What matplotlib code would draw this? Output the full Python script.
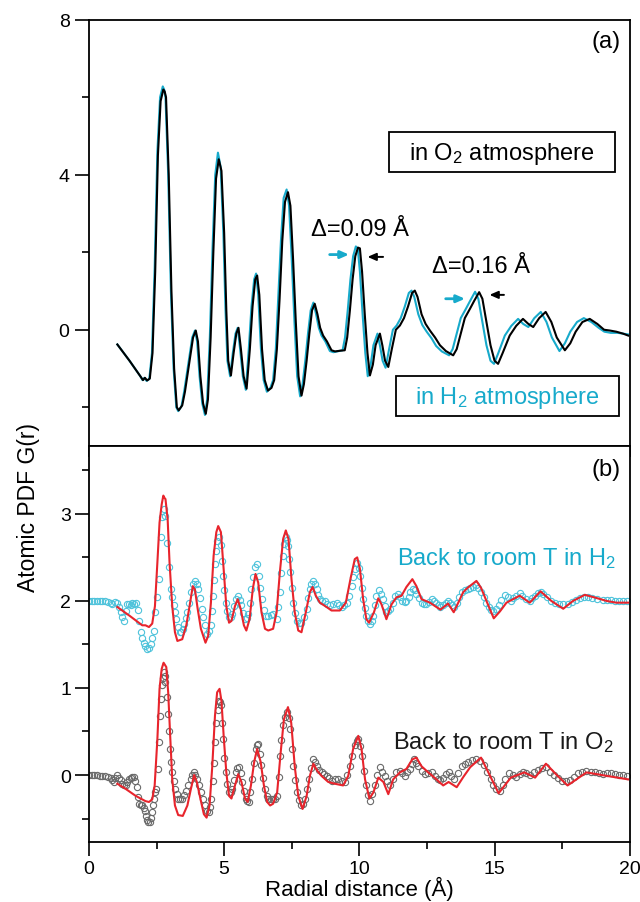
import matplotlib
matplotlib.use("Agg")
import matplotlib.pyplot as plt
import numpy as np
from matplotlib.ticker import MultipleLocator
from matplotlib.patches import Rectangle

plt.rcParams['font.family'] = ['Liberation Sans', 'DejaVu Sans']
plt.rcParams['mathtext.fontset'] = 'custom'
plt.rcParams['mathtext.rm'] = 'Liberation Sans'
plt.rcParams['mathtext.default'] = 'regular'

# (a) G(r) in O2 and in H2 atmosphere, pairs of (r, G)
o2_top = [(1.05, -0.38), (1.5, -0.80), (1.9, -1.20), (2.0, -1.30), (2.07, -1.24), (2.15, -1.31), (2.25, -1.26),
          (2.35, -0.6), (2.45, 1.5), (2.55, 4.5), (2.65, 5.9), (2.75, 6.2), (2.80, 6.15), (2.85, 6.0), (2.95, 4.0),
          (3.05, 1.0), (3.15, -1.0), (3.25, -2.0), (3.32, -2.08), (3.45, -1.95), (3.55, -1.6), (3.7, -0.9),
          (3.85, -0.2), (3.95, -0.02), (4.03, -0.3), (4.12, -1.2), (4.22, -1.9), (4.32, -2.17), (4.40, -1.8),
          (4.50, -0.2), (4.6, 2.0), (4.7, 3.9), (4.8, 4.4), (4.9, 4.1), (5.0, 2.5), (5.08, 0.5), (5.15, -0.8),
          (5.25, -1.18), (5.35, -0.6), (5.45, -0.1), (5.53, 0.05), (5.62, -0.5), (5.72, -1.2), (5.83, -1.52),
          (5.95, -0.5), (6.05, 0.6), (6.15, 1.3), (6.22, 1.40), (6.3, 0.9), (6.4, -0.5), (6.5, -1.3), (6.62, -1.57),
          (6.75, -1.5), (6.85, -1.3), (6.95, -0.5), (7.05, 0.8), (7.15, 2.3), (7.25, 3.3), (7.36, 3.55), (7.45, 3.2),
          (7.55, 1.8), (7.65, 0.2), (7.75, -1.2), (7.86, -1.70), (7.95, -1.4), (8.05, -0.8), (8.15, -0.1),
          (8.25, 0.5), (8.35, 0.67), (8.45, 0.4), (8.55, 0.05), (8.66, -0.15), (8.8, -0.3), (8.97, -0.53),
          (9.1, -0.56), (9.3, -0.54), (9.46, -0.53), (9.55, -0.2), (9.65, 0.5), (9.75, 1.3), (9.85, 1.9),
          (9.95, 2.12), (10.02, 2.1), (10.1, 1.5), (10.2, 0.4), (10.3, -0.6), (10.39, -1.18), (10.5, -0.9),
          (10.6, -0.4), (10.76, -0.1), (10.85, -0.4), (10.95, -0.8), (11.07, -0.96), (11.2, -0.5), (11.35, 0.0),
          (11.5, 0.11), (11.65, 0.3), (11.8, 0.6), (11.95, 0.95), (12.05, 1.01), (12.15, 0.85), (12.3, 0.4),
          (12.45, 0.15), (12.61, -0.02), (12.8, -0.2), (12.98, -0.40), (13.2, -0.55), (13.47, -0.66), (13.6, -0.5),
          (13.75, -0.1), (13.9, 0.3), (14.09, 0.54), (14.25, 0.75), (14.43, 0.97), (14.55, 0.8), (14.7, 0.2),
          (14.85, -0.4), (15.0, -0.8), (15.13, -0.88), (15.3, -0.6), (15.56, -0.15), (15.8, 0.1), (16.05, 0.28),
          (16.25, 0.15), (16.43, 0.07), (16.65, 0.3), (16.89, 0.46), (17.1, 0.2), (17.3, -0.2), (17.6, -0.53),
          (17.8, -0.35), (18.0, -0.05), (18.25, 0.2), (18.52, 0.28), (18.8, 0.15), (19.05, 0.0), (19.26, -0.02),
          (19.5, -0.05), (19.75, -0.1), (19.94, -0.15)]

h2_top = [(1.05, -0.38), (1.5, -0.80), (1.9, -1.20), (1.98, -1.30), (2.05, -1.24), (2.13, -1.32), (2.23, -1.27),
          (2.33, -0.6), (2.43, 1.6), (2.53, 4.6), (2.63, 6.0), (2.73, 6.28), (2.78, 6.2), (2.83, 6.0), (2.93, 4.0),
          (3.03, 1.0), (3.13, -1.0), (3.23, -2.0), (3.30, -2.1), (3.42, -1.98), (3.52, -1.6), (3.67, -0.9),
          (3.82, -0.2), (3.92, -0.02), (4.0, -0.3), (4.09, -1.2), (4.19, -1.9), (4.29, -2.2), (4.37, -1.8),
          (4.47, -0.2), (4.57, 2.1), (4.67, 4.0), (4.77, 4.57), (4.87, 4.2), (4.97, 2.5), (5.05, 0.5), (5.12, -0.8),
          (5.22, -1.2), (5.32, -0.6), (5.42, -0.1), (5.50, 0.05), (5.59, -0.5), (5.69, -1.2), (5.80, -1.55),
          (5.91, -0.5), (6.01, 0.6), (6.11, 1.3), (6.18, 1.45), (6.26, 0.9), (6.36, -0.5), (6.46, -1.3), (6.58, -1.6),
          (6.71, -1.5), (6.81, -1.3), (6.91, -0.5), (7.0, 0.8), (7.1, 2.3), (7.2, 3.4), (7.31, 3.62), (7.40, 3.2),
          (7.50, 1.8), (7.60, 0.2), (7.70, -1.2), (7.81, -1.72), (7.90, -1.4), (8.0, -0.8), (8.1, -0.1), (8.2, 0.5),
          (8.30, 0.7), (8.40, 0.4), (8.50, 0.05), (8.60, -0.15), (8.74, -0.3), (8.91, -0.55), (9.04, -0.58),
          (9.24, -0.55), (9.38, -0.53), (9.47, -0.2), (9.57, 0.5), (9.67, 1.3), (9.77, 1.9), (9.87, 2.15),
          (9.94, 2.1), (10.02, 1.5), (10.12, 0.4), (10.22, -0.6), (10.31, -1.2), (10.42, -0.9), (10.52, -0.4),
          (10.67, -0.1), (10.76, -0.4), (10.86, -0.8), (10.97, -0.98), (11.1, -0.5), (11.24, 0.0), (11.38, 0.11),
          (11.53, 0.3), (11.68, 0.6), (11.83, 0.95), (11.93, 1.01), (12.03, 0.85), (12.18, 0.4), (12.33, 0.12),
          (12.49, -0.05), (12.67, -0.22), (12.84, -0.42), (13.05, -0.56), (13.32, -0.66), (13.45, -0.5),
          (13.6, -0.1), (13.75, 0.3), (13.94, 0.54), (14.1, 0.75), (14.28, 0.98), (14.4, 0.8), (14.55, 0.2),
          (14.7, -0.4), (14.85, -0.8), (14.98, -0.88), (15.14, -0.6), (15.38, -0.15), (15.62, 0.1), (15.87, 0.28),
          (16.06, 0.15), (16.25, 0.07), (16.47, 0.3), (16.71, 0.46), (16.92, 0.2), (17.12, -0.2), (17.4, -0.55),
          (17.6, -0.35), (17.8, -0.05), (18.05, 0.2), (18.3, 0.3), (18.58, 0.2), (18.85, 0.05), (19.06, -0.05),
          (19.3, -0.08), (19.55, -0.08), (19.94, -0.12)]

# (b) back to room T: measured (circles) and model (red), H2 curve shifted by +2
h2_meas = [(0.0, 2.0), (0.1, 2.0), (0.2, 2.0), (0.3, 2.0), (0.4, 2.0), (0.5, 2.0), (0.6, 2.0), (0.7, 1.99),
           (0.8, 1.98), (0.86, 1.97), (0.95, 1.99), (1.05, 1.98), (1.11, 1.93), (1.17, 1.87), (1.23, 1.82),
           (1.29, 1.77), (1.36, 1.88), (1.42, 1.97), (1.48, 1.96), (1.54, 1.95), (1.6, 1.98), (1.66, 1.96),
           (1.73, 1.98), (1.8, 1.9), (1.85, 1.77), (1.91, 1.64), (1.97, 1.57), (2.03, 1.52), (2.09, 1.48),
           (2.16, 1.45), (2.22, 1.46), (2.28, 1.50), (2.34, 1.57), (2.40, 1.66), (2.46, 1.87), (2.53, 2.04),
           (2.59, 2.25), (2.65, 2.73), (2.71, 2.96), (2.77, 3.06), (2.83, 2.98), (2.90, 2.67), (2.96, 2.39),
           (3.02, 2.14), (3.08, 2.04), (3.14, 1.95), (3.18, 1.87), (3.23, 1.79), (3.29, 1.70), (3.35, 1.64),
           (3.41, 1.64), (3.47, 1.68), (3.53, 1.74), (3.58, 1.80), (3.64, 1.87), (3.70, 1.98), (3.76, 2.10),
           (3.84, 2.2), (3.92, 2.23), (3.98, 2.2), (4.04, 2.14), (4.1, 2.03), (4.17, 1.91), (4.23, 1.81),
           (4.29, 1.72), (4.37, 1.62), (4.44, 1.65), (4.50, 1.72), (4.54, 1.88), (4.58, 2.06), (4.62, 2.24),
           (4.66, 2.42), (4.70, 2.57), (4.74, 2.69), (4.81, 2.73), (4.89, 2.64), (4.92, 2.46), (4.95, 2.29),
           (5.0, 2.12), (5.05, 1.98), (5.12, 1.88), (5.18, 1.81), (5.24, 1.82), (5.30, 1.85), (5.36, 1.94),
           (5.42, 2.02), (5.52, 2.06), (5.58, 2.01), (5.64, 1.95), (5.7, 1.86), (5.77, 1.79), (5.83, 1.80),
           (5.89, 1.85), (5.95, 1.98), (6.01, 2.14), (6.07, 2.28), (6.14, 2.39), (6.20, 2.42), (6.28, 2.29),
           (6.34, 2.15), (6.41, 2.02), (6.47, 1.9), (6.53, 1.83), (6.63, 1.83), (6.72, 1.84), (6.81, 1.85),
           (6.94, 1.79), (7.0, 1.93), (7.06, 2.10), (7.12, 2.32), (7.18, 2.52), (7.23, 2.65), (7.28, 2.73),
           (7.33, 2.70), (7.37, 2.63), (7.41, 2.48), (7.45, 2.33), (7.50, 2.15), (7.55, 1.98), (7.62, 1.86),
           (7.70, 1.77), (7.78, 1.75), (7.86, 1.75), (7.95, 1.82), (8.05, 1.91), (8.11, 2.03), (8.17, 2.14),
           (8.23, 2.2), (8.29, 2.23), (8.36, 2.2), (8.42, 2.14), (8.48, 2.07), (8.54, 2.02), (8.63, 2.0),
           (8.73, 2.00), (8.82, 1.97), (8.91, 1.95), (9.03, 1.96), (9.16, 1.98), (9.25, 1.95), (9.34, 1.93),
           (9.43, 1.95), (9.53, 1.98), (9.62, 2.06), (9.71, 2.17), (9.77, 2.28), (9.83, 2.37), (9.92, 2.44),
           (9.97, 2.38), (10.02, 2.29), (10.08, 2.15), (10.14, 2.02), (10.2, 1.92), (10.26, 1.83), (10.32, 1.77),
           (10.39, 1.73), (10.45, 1.77), (10.51, 1.83), (10.57, 1.95), (10.63, 2.06), (10.73, 2.12), (10.8, 2.08),
           (10.86, 2.02), (10.93, 1.94), (11.0, 1.87), (11.07, 1.88), (11.15, 1.91), (11.23, 1.98), (11.31, 2.06),
           (11.44, 2.08), (11.52, 2.04), (11.59, 2.00), (11.67, 1.99), (11.74, 2.00), (11.82, 2.05), (11.89, 2.10),
           (11.99, 2.14), (12.05, 2.12), (12.11, 2.08), (12.2, 2.03), (12.3, 1.98), (12.4, 1.96), (12.48, 1.96),
           (12.58, 1.99), (12.67, 2.02), (12.76, 2.0), (12.85, 1.98), (12.93, 1.95), (13.0, 1.93), (13.1, 1.95),
           (13.2, 1.98), (13.28, 2.0), (13.36, 1.98), (13.43, 1.95), (13.5, 1.93), (13.6, 1.98), (13.7, 2.05),
           (13.8, 2.1), (13.9, 2.12), (14.0, 2.14), (14.1, 2.15), (14.2, 2.16), (14.3, 2.18), (14.4, 2.15),
           (14.5, 2.1), (14.6, 2.05), (14.7, 1.98), (14.8, 1.93), (14.88, 1.9), (14.95, 1.89), (15.05, 1.91),
           (15.15, 1.95), (15.25, 2.01), (15.38, 2.07), (15.48, 2.04), (15.6, 2.0), (15.7, 2.03), (15.8, 2.06),
           (15.93, 2.09), (16.03, 2.06), (16.15, 2.02), (16.3, 2.0), (16.4, 2.03), (16.5, 2.06), (16.6, 2.09),
           (16.7, 2.1), (16.8, 2.08), (16.95, 2.04), (17.1, 2.0), (17.25, 1.98), (17.4, 1.96), (17.54, 1.96),
           (17.7, 1.97), (17.85, 1.99), (18.0, 2.01), (18.15, 2.03), (18.3, 2.05), (18.45, 2.04), (18.6, 2.03),
           (18.8, 2.02), (19.0, 2.01), (19.15, 2.01), (19.3, 2.01), (19.45, 2.0), (19.6, 2.0), (19.75, 2.0),
           (19.9, 2.0)]

h2_fit = [(1.05, 1.93), (1.5, 1.83), (1.97, 1.72), (2.09, 1.72), (2.22, 1.70), (2.34, 1.74), (2.44, 1.94),
          (2.53, 2.44), (2.61, 2.90), (2.69, 3.11), (2.75, 3.21), (2.80, 3.18), (2.83, 3.17), (2.91, 2.94),
          (2.98, 2.44), (3.08, 1.94), (3.18, 1.64), (3.27, 1.54), (3.45, 1.56), (3.60, 1.72), (3.72, 1.94),
          (3.84, 2.17), (3.92, 2.13), (4.02, 1.91), (4.14, 1.68), (4.31, 1.52), (4.41, 1.60), (4.51, 1.98),
          (4.61, 2.52), (4.71, 2.79), (4.78, 2.86), (4.88, 2.79), (4.98, 2.37), (5.08, 1.94), (5.18, 1.75),
          (5.27, 1.77), (5.40, 1.94), (5.50, 2.02), (5.61, 1.91), (5.73, 1.72), (5.82, 1.66), (5.94, 1.79),
          (6.06, 2.14), (6.16, 2.31), (6.26, 2.21), (6.38, 1.87), (6.51, 1.68), (6.63, 1.66), (6.81, 1.68),
          (6.94, 1.87), (7.06, 2.33), (7.18, 2.71), (7.28, 2.81), (7.38, 2.71), (7.49, 2.25), (7.61, 1.87),
          (7.74, 1.66), (7.86, 1.64), (8.02, 1.87), (8.17, 2.10), (8.27, 2.16), (8.39, 2.06), (8.54, 1.98),
          (8.79, 1.93), (8.97, 1.89), (9.28, 1.89), (9.50, 1.98), (9.67, 2.25), (9.83, 2.48), (9.92, 2.50),
          (10.02, 2.37), (10.14, 2.02), (10.26, 1.79), (10.36, 1.75), (10.54, 1.87), (10.70, 2.03), (10.82, 1.96),
          (11.0, 1.79), (11.19, 1.96), (11.37, 2.04), (11.56, 2.06), (11.74, 2.16), (11.96, 2.25), (12.11, 2.17),
          (12.3, 2.02), (12.61, 1.98), (12.85, 1.93), (13.0, 1.90), (13.28, 1.97), (13.49, 1.87), (13.84, 2.10),
          (14.0, 2.15), (14.33, 2.23), (14.5, 2.15), (14.7, 2.0), (14.97, 1.80), (15.2, 1.88), (15.44, 1.98),
          (15.93, 2.06), (16.3, 1.98), (16.7, 2.11), (17.1, 2.0), (17.54, 1.91), (17.9, 2.0), (18.34, 2.07),
          (18.7, 2.04), (19.14, 2.00), (19.5, 1.98), (19.94, 1.98)]

o2_meas = [(0.0, 0.0), (0.1, 0.0), (0.2, 0.0), (0.3, 0.0), (0.4, -0.01), (0.5, -0.01), (0.6, -0.01), (0.7, -0.02),
           (0.8, -0.03), (0.86, -0.06), (0.92, -0.08), (0.98, -0.03), (1.05, 0.0), (1.11, -0.03), (1.17, -0.06),
           (1.24, -0.1), (1.30, -0.12), (1.36, -0.12), (1.42, -0.08), (1.48, -0.05), (1.55, -0.03), (1.60, -0.02),
           (1.66, -0.02), (1.72, -0.07), (1.76, -0.14), (1.80, -0.25), (1.85, -0.33), (1.91, -0.34), (1.97, -0.35),
           (2.02, -0.38), (2.07, -0.41), (2.12, -0.47), (2.16, -0.52), (2.20, -0.54), (2.24, -0.54), (2.29, -0.49),
           (2.34, -0.43), (2.38, -0.35), (2.42, -0.27), (2.46, -0.2), (2.49, -0.16), (2.54, 0.07), (2.58, 0.38),
           (2.61, 0.68), (2.65, 0.87), (2.69, 1.03), (2.72, 1.12), (2.76, 1.18), (2.80, 1.14), (2.83, 1.07),
           (2.87, 0.9), (2.91, 0.70), (2.95, 0.5), (2.98, 0.30), (3.03, 0.15), (3.08, 0.03), (3.13, -0.07),
           (3.18, -0.16), (3.24, -0.22), (3.30, -0.27), (3.38, -0.28), (3.45, -0.27), (3.52, -0.23), (3.60, -0.18),
           (3.68, -0.11), (3.76, -0.05), (3.82, 0.0), (3.88, 0.03), (3.94, 0.0), (4.00, -0.05), (4.06, -0.12),
           (4.13, -0.20), (4.21, -0.28), (4.29, -0.35), (4.37, -0.41), (4.44, -0.43), (4.49, -0.37), (4.53, -0.27),
           (4.57, -0.07), (4.62, 0.14), (4.66, 0.38), (4.71, 0.60), (4.76, 0.75), (4.81, 0.85), (4.85, 0.84),
           (4.89, 0.80), (4.92, 0.6), (4.95, 0.41), (5.0, 0.2), (5.05, 0.03), (5.12, -0.1), (5.18, -0.20),
           (5.24, -0.19), (5.30, -0.16), (5.36, -0.06), (5.42, 0.03), (5.48, 0.08), (5.55, 0.09), (5.61, 0.02),
           (5.67, -0.08), (5.73, -0.18), (5.79, -0.27), (5.85, -0.3), (5.91, -0.31), (5.97, -0.2), (6.04, -0.05),
           (6.10, 0.14), (6.16, 0.30), (6.21, 0.35), (6.26, 0.36), (6.32, 0.24), (6.38, 0.11), (6.44, -0.03),
           (6.51, -0.16), (6.57, -0.24), (6.63, -0.27), (6.72, -0.28), (6.81, -0.28), (6.88, -0.27), (6.96, -0.24),
           (7.01, -0.02), (7.06, 0.22), (7.12, 0.4), (7.18, 0.57), (7.25, 0.67), (7.33, 0.72), (7.39, 0.65),
           (7.45, 0.53), (7.50, 0.3), (7.55, 0.10), (7.61, -0.06), (7.68, -0.20), (7.75, -0.29), (7.83, -0.35),
           (7.91, -0.33), (7.99, -0.27), (8.07, -0.16), (8.15, -0.05), (8.22, 0.08), (8.30, 0.18), (8.37, 0.15),
           (8.44, 0.10), (8.52, 0.06), (8.60, 0.03), (8.70, 0.01), (8.79, -0.01), (8.88, -0.04), (8.97, -0.07),
           (9.1, -0.05), (9.22, -0.05), (9.35, -0.07), (9.47, -0.08), (9.56, 0.0), (9.65, 0.10), (9.74, 0.22),
           (9.83, 0.34), (9.90, 0.39), (9.96, 0.41), (10.02, 0.33), (10.08, 0.22), (10.16, 0.05), (10.24, -0.12),
           (10.31, -0.23), (10.39, -0.30), (10.48, -0.22), (10.57, -0.12), (10.66, 0.0), (10.76, 0.09),
           (10.85, 0.04), (10.94, -0.01), (11.03, -0.07), (11.13, -0.12), (11.24, -0.05), (11.35, 0.03),
           (11.50, 0.05), (11.59, 0.02), (11.68, -0.01), (11.78, 0.03), (11.87, 0.07), (11.95, 0.13), (12.02, 0.18),
           (12.1, 0.14), (12.18, 0.10), (12.3, 0.05), (12.42, 0.01), (12.55, 0.02), (12.67, 0.03), (12.79, -0.01),
           (12.91, -0.05), (13.0, -0.06), (13.1, -0.03), (13.2, 0.01), (13.3, 0.03), (13.4, -0.01), (13.5, -0.05),
           (13.65, 0.02), (13.8, 0.10), (13.9, 0.13), (14.0, 0.15), (14.15, 0.17), (14.3, 0.18), (14.45, 0.16),
           (14.6, 0.12), (14.72, 0.03), (14.85, -0.05), (14.95, -0.12), (15.05, -0.16), (15.2, -0.18), (15.3, -0.12),
           (15.4, -0.05), (15.55, 0.02), (15.68, 0.0), (15.8, -0.02), (15.93, 0.01), (16.05, 0.04), (16.18, 0.02),
           (16.3, 0.0), (16.45, 0.03), (16.6, 0.06), (16.75, 0.08), (16.9, 0.09), (17.05, 0.04), (17.2, 0.0),
           (17.35, -0.04), (17.5, -0.07), (17.65, -0.07), (17.8, -0.06), (17.95, -0.02), (18.1, 0.02), (18.25, 0.04),
           (18.4, 0.05), (18.55, 0.04), (18.7, 0.03), (18.85, 0.02), (19.0, 0.01), (19.15, 0.02), (19.3, 0.02),
           (19.45, 0.01), (19.6, 0.0), (19.75, 0.0), (19.9, -0.01)]

o2_fit = [(1.05, -0.10), (1.36, -0.16), (1.73, -0.24), (2.09, -0.30), (2.22, -0.31), (2.34, -0.28), (2.43, -0.12),
          (2.53, 0.41), (2.61, 0.99), (2.69, 1.22), (2.76, 1.29), (2.80, 1.27), (2.86, 1.24), (2.93, 0.95),
          (3.01, 0.41), (3.08, -0.05), (3.18, -0.35), (3.30, -0.46), (3.47, -0.47), (3.64, -0.35), (3.77, -0.16),
          (3.89, 0.0), (3.99, -0.08), (4.12, -0.27), (4.25, -0.45), (4.35, -0.49), (4.46, -0.35), (4.56, 0.10),
          (4.66, 0.68), (4.74, 0.95), (4.83, 0.99), (4.90, 0.85), (4.99, 0.41), (5.08, 0.03), (5.18, -0.24),
          (5.27, -0.27), (5.40, -0.12), (5.52, 0.01), (5.64, -0.08), (5.77, -0.27), (5.87, -0.31), (5.99, -0.12),
          (6.11, 0.15), (6.22, 0.30), (6.35, 0.15), (6.47, -0.12), (6.59, -0.31), (6.70, -0.35), (6.81, -0.33),
          (6.96, -0.20), (7.09, 0.26), (7.21, 0.64), (7.36, 0.78), (7.48, 0.60), (7.61, 0.10), (7.74, -0.24),
          (7.90, -0.39), (8.05, -0.24), (8.17, -0.01), (8.30, 0.13), (8.44, 0.05), (8.60, -0.01), (8.85, -0.08),
          (9.09, -0.10), (9.40, -0.12), (9.59, -0.01), (9.77, 0.30), (9.96, 0.45), (10.08, 0.30), (10.21, -0.05),
          (10.37, -0.27), (10.52, -0.20), (10.70, -0.03), (10.89, -0.08), (11.07, -0.22), (11.25, -0.05),
          (11.50, 0.03), (11.74, 0.07), (11.96, 0.18), (12.11, 0.20), (12.30, 0.10), (12.55, 0.03), (12.85, -0.05),
          (13.1, -0.12), (13.3, -0.08), (13.6, -0.14), (13.85, -0.02), (14.1, 0.09), (14.5, 0.20), (14.85, -0.02),
          (15.15, -0.21), (15.6, -0.03), (16.1, 0.03), (16.5, -0.03), (16.9, 0.13), (17.3, 0.0), (17.7, -0.12),
          (18.4, 0.03), (19.15, -0.01), (19.94, -0.05)]

# peak shift arrows: (tail r, head r, G)
arrows_h2 = [(8.80, 9.72, 1.94), (13.09, 14.01, 0.80)]
arrows_o2 = [(10.98, 10.20, 1.88), (15.45, 14.71, 0.90)]

CYAN = '#17aacb'
CYAN_C = '#4ec3db'
RED = '#e8242c'
GREY = '#6a6a6a'

fig = plt.figure(figsize=(6.4, 9.03), dpi=100)
ax1 = fig.add_axes([0.139, 0.505, 0.845, 0.472])
ax2 = fig.add_axes([0.139, 0.0664, 0.845, 0.4386])

r, g = np.array(o2_top).T
ax1.plot(r, g, color='black', lw=1.5, zorder=3)
r, g = np.array(h2_top).T
ax1.plot(r, g, color=CYAN, lw=1.5, zorder=2)

for x0, x1, y in arrows_h2:
    ax1.annotate('', xy=(x1, y), xytext=(x0, y),
                 arrowprops=dict(arrowstyle='-|>,head_length=0.5,head_width=0.22', color=CYAN, lw=2))
for x0, x1, y in arrows_o2:
    ax1.annotate('', xy=(x1, y), xytext=(x0, y),
                 arrowprops=dict(arrowstyle='-|>,head_length=0.5,head_width=0.22', color='black', lw=1.4))

ax1.text(8.2, 2.6, 'Δ=0.09 Å', fontsize=17, va='center')
ax1.text(12.7, 1.65, 'Δ=0.16 Å', fontsize=17, va='center')

# boxed labels
ax1.add_patch(Rectangle((0.5545, 0.643), 0.4175, 0.094, transform=ax1.transAxes,
                        fc='white', ec='black', lw=1.3, zorder=4))
ax1.text(0.763, 0.688, 'in O$_2$ atmosphere', transform=ax1.transAxes, fontsize=17,
         ha='center', va='center', zorder=5)
ax1.add_patch(Rectangle((0.567, 0.070), 0.413, 0.094, transform=ax1.transAxes,
                        fc='white', ec='black', lw=1.3, zorder=4))
ax1.text(0.773, 0.115, 'in H$_2$ atmosphere', transform=ax1.transAxes, fontsize=17,
         ha='center', va='center', color=CYAN, zorder=5)
ax1.text(19.65, 7.45, '(a)', fontsize=17, ha='right', va='center')

ax1.set_xlim(0, 20)
ax1.set_ylim(-3, 8)
ax1.xaxis.set_major_locator(MultipleLocator(5))
ax1.xaxis.set_minor_locator(MultipleLocator(2.5))
ax1.yaxis.set_major_locator(MultipleLocator(4))
ax1.yaxis.set_minor_locator(MultipleLocator(2))
# ticks on the shared edge point down into panel (b)
ax1.tick_params(axis='x', which='major', direction='out', length=8, width=1.2, labelbottom=False)
ax1.tick_params(axis='x', which='minor', direction='out', length=5, width=1.2)
ax1.tick_params(axis='y', which='major', direction='out', length=10, width=1.2, labelsize=14, pad=4)
ax1.tick_params(axis='y', which='minor', direction='out', length=5, width=1.2)

r, g = np.array(h2_meas).T
ax2.plot(r, g, 'o', mfc='none', mec=CYAN_C, ms=4.5, mew=0.8, zorder=2)
r, g = np.array(h2_fit).T
ax2.plot(r, g, color=RED, lw=1.5, zorder=3)
r, g = np.array(o2_meas).T
ax2.plot(r, g, 'o', mfc='none', mec=GREY, ms=4.5, mew=0.8, zorder=2)
r, g = np.array(o2_fit).T
ax2.plot(r, g, color=RED, lw=1.5, zorder=3)

ax2.text(19.5, 2.5, 'Back to room T in H$_2$', fontsize=17, ha='right', va='center', color=CYAN)
ax2.text(19.4, 0.38, 'Back to room T in O$_2$', fontsize=17, ha='right', va='center', color='#1a1a1a')
ax2.text(19.65, 3.52, '(b)', fontsize=17, ha='right', va='center')

ax2.set_xlim(0, 20)
ax2.set_ylim(-0.77, 3.78)
ax2.xaxis.set_major_locator(MultipleLocator(5))
ax2.xaxis.set_minor_locator(MultipleLocator(2.5))
ax2.yaxis.set_major_locator(MultipleLocator(1))
ax2.yaxis.set_minor_locator(MultipleLocator(0.5))
ax2.tick_params(axis='both', which='major', direction='out', length=10, width=1.2, labelsize=14, pad=3)
ax2.tick_params(axis='both', which='minor', direction='out', length=5, width=1.2)
ax2.set_xlabel('Radial distance (Å)', fontsize=16, va='baseline')
ax2.xaxis.set_label_coords(0.5, -0.134)

for ax in (ax1, ax2):
    for s in ax.spines.values():
        s.set_linewidth(1.3)

fig.text(0.044, 1 - 507 / 903, 'Atomic PDF G(r)', rotation=90, fontsize=16.5, ha='center', va='center')

fig.savefig('out.png', dpi=100)
